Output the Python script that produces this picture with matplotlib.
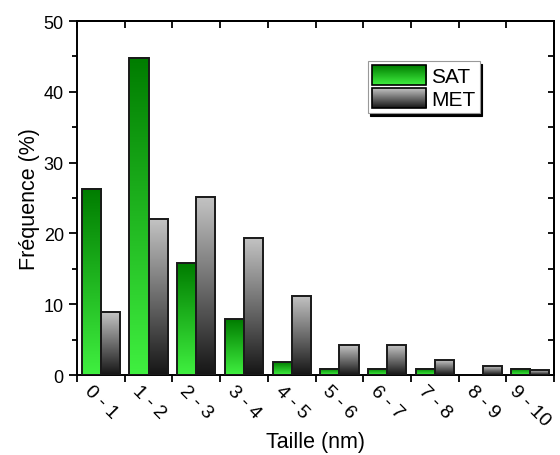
import numpy as np
import matplotlib
matplotlib.use("Agg")
import matplotlib.pyplot as plt
from matplotlib.colors import LinearSegmentedColormap
from matplotlib.patches import Rectangle
from matplotlib.image import BboxImage
from matplotlib.transforms import Bbox, TransformedBbox
from matplotlib.legend_handler import HandlerBase

plt.rcParams['font.family'] = ['Liberation Sans', 'DejaVu Sans']

# Data
categories = ["0 - 1", "1 - 2", "2 - 3", "3 - 4", "4 - 5",
              "5 - 6", "6 - 7", "7 - 8", "8 - 9", "9 - 10"]
sat = [26.3, 44.8, 15.8, 7.9, 1.8, 0.9, 0.9, 0.9, 0.0, 0.9]
met = [8.85, 22.1, 25.2, 19.4, 11.2, 4.2, 4.2, 2.1, 1.25, 0.65]

# gradient colormaps (value 0 = bottom of bar, 1 = top)
cmap_sat = LinearSegmentedColormap.from_list("sat", ["#40f040", "#007c00"])
cmap_met = LinearSegmentedColormap.from_list("met", ["#151515", "#c4c4c4"])
grad = np.linspace(0, 1, 256).reshape(-1, 1)


def gradient_bar(ax, x0, w, h, cmap):
    if h <= 0:
        return
    ax.imshow(grad, extent=[x0, x0 + w, 0, h], origin='lower', aspect='auto',
              cmap=cmap, interpolation='bilinear', zorder=2)
    ax.add_patch(Rectangle((x0, 0), w, h, fc='none', ec='#1a1a1a', lw=1.4, zorder=3))


class GradHandler(HandlerBase):
    def __init__(self, cmap):
        super().__init__()
        self.cmap = cmap

    def create_artists(self, legend, orig_handle, xdescent, ydescent,
                       width, height, fontsize, trans):
        bb = Bbox.from_bounds(-xdescent, -ydescent, width, height)
        img = BboxImage(TransformedBbox(bb, trans), cmap=self.cmap,
                        interpolation='bilinear', origin='lower')
        img.set_data(grad)
        rect = Rectangle((-xdescent, -ydescent), width, height, fc='none',
                         ec='black', lw=1.2, transform=trans)
        return [img, rect]


fig = plt.figure(figsize=(5.6, 4.56), dpi=100)
ax = fig.add_axes([0.1375, 0.1754, 0.852, 0.7763])

x = np.arange(len(categories))
bw = 0.4
for i in x:
    gradient_bar(ax, i + 0.5 - bw, bw, sat[i], cmap_sat)
    gradient_bar(ax, i + 0.5, bw, met[i], cmap_met)

ax.set_xlim(0, 10)
ax.set_ylim(0, 50)

# x axis: ticks at group boundaries, labels at centres
ax.set_xticks(np.arange(0, 11))
ax.set_xticklabels([])
ax.set_xticks(x + 0.5, minor=True)
ax.set_xticklabels(categories, minor=True, rotation=-45, ha='center', va='top')
ax.tick_params(axis='x', which='minor', length=0, pad=5, labelsize=14)
ax.tick_params(axis='x', which='major', direction='out', length=5, width=1.3)

ax.set_yticks([0, 10, 20, 30, 40, 50])
ax.set_yticks(np.arange(5, 50, 10), minor=True)
ax.tick_params(axis='y', which='major', direction='out', length=6, width=1.3, labelsize=13)
ax.tick_params(axis='y', which='minor', direction='out', length=3.5, width=1.3)

for s in ax.spines.values():
    s.set_linewidth(1.4)

# mirrored ticks, pointing inward
top = ax.secondary_xaxis('top')
top.set_xticks(np.arange(0, 11))
top.tick_params(direction='in', length=5, width=1.3, labeltop=False)
right = ax.secondary_yaxis('right')
right.set_yticks(np.arange(0, 51, 5))
right.tick_params(direction='in', length=4, width=1.3, labelright=False)
for sec in (top, right):
    for s in sec.spines.values():
        s.set_linewidth(1.4)

ax.set_xlabel("Taille (nm)", fontsize=15.5, va='top')
ax.xaxis.set_label_coords(0.5, -0.158)
ax.set_ylabel("Fréquence (%)", fontsize=15.5, labelpad=3)

h1 = Rectangle((0, 0), 1, 1)
h2 = Rectangle((0, 0), 1, 1)
leg = ax.legend([h1, h2], ["SAT", "MET"], loc='upper left',
                bbox_to_anchor=(0.609, 0.887), fontsize=15,
                handler_map={h1: GradHandler(cmap_sat), h2: GradHandler(cmap_met)},
                handlelength=2.6, handleheight=1.1, labelspacing=0.08,
                handletextpad=0.25, borderpad=0.2, borderaxespad=0,
                fancybox=False, framealpha=1,
                shadow={'color': 'black', 'alpha': 1})
leg.get_frame().set_edgecolor('#999999')
leg.get_frame().set_linewidth(0.8)

fig.savefig("out.png", dpi=100)
